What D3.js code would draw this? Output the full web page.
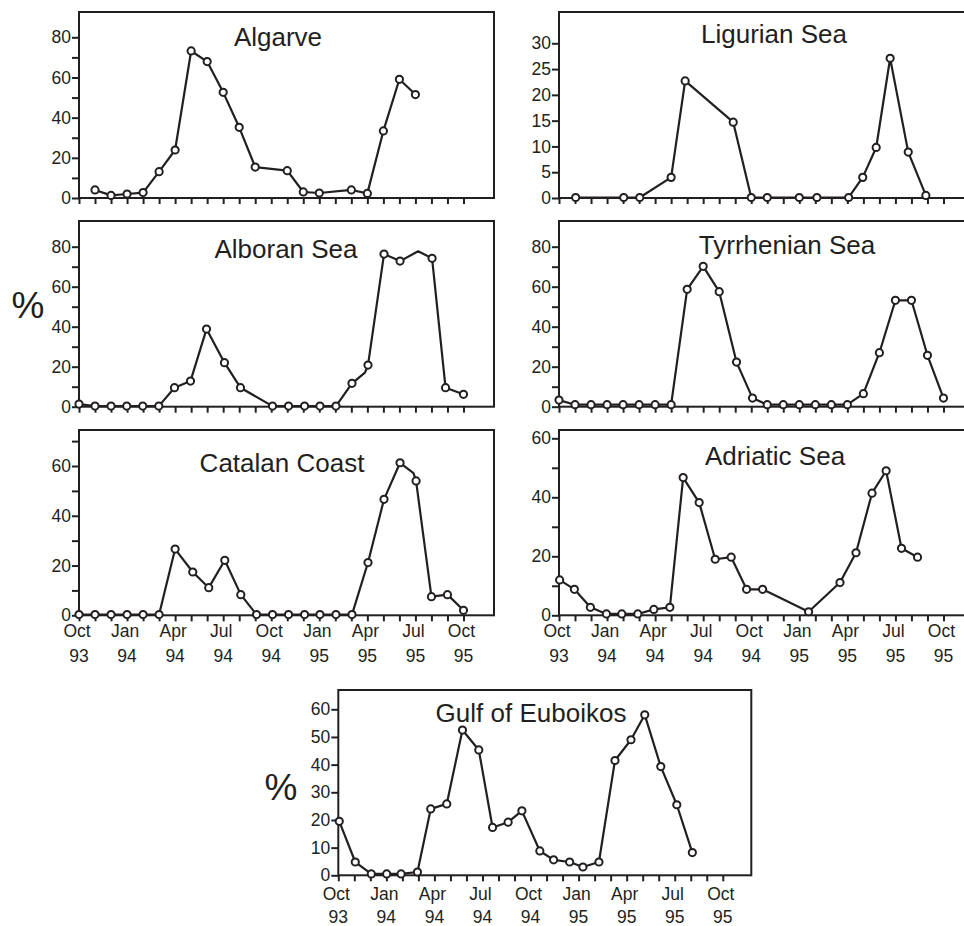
<!DOCTYPE html>
<html>
<head>
<meta charset="utf-8">
<script src="https://cdn.jsdelivr.net/npm/d3@7"></script>
<style>
  body { margin: 0; background: #fff; }
  svg text { font-family: "Liberation Sans", Arial, Helvetica, sans-serif; fill: #231f20; }
  .axis line { stroke: #231f20; stroke-width: 2; }
  .axis path { display: none; }
  .axis text { font-size: 17.5px; }
</style>
</head>
<body>
<div id="canvas"></div>
<script>
// x values are months counted from Oct 93 (0) to Oct 95 (24)
var monthLabels = ['Oct','Jan','Apr','Jul','Oct','Jan','Apr','Jul','Oct'],
    yearLabels  = ['93','94','94','94','94','95','95','95','95'],
    labelMonths = [0,3,6,9,12,15,18,21,24];

var algarveMonths = [1,2,3,4,5,6,7,8,9,10,11,13,14,15,17,18,19,20,21],
    algarveValues = [4.0,1.3,2.0,2.7,13.1,23.9,73.2,67.9,52.6,35.2,15.4,13.6,3.0,2.5,4.0,2.3,33.4,59.1,51.5];

var ligurianMonths = [1.04,4.04,5.04,7.0,7.875,10.875,12.0,13.0,15.0,16.1,18.08,18.96,19.8,20.67,21.8,22.9],
    ligurianValues = [0.1,0.1,0.1,4.0,22.7,14.7,0.1,0.1,0.1,0.1,0.1,4.0,9.8,27.1,8.9,0.5];

var alboranMonths = [0,1,2,2.98,3.98,4.98,5.96,6.96,7.96,9.08,10.08,12.08,13.08,14.08,15.04,16.04,17.04,17.85,18.04,19.04,20.04,21.17,22.04,22.88,24],
    alboranValues = [1.3,0.3,0.3,0.3,0.3,0.3,9.5,12.8,38.8,22.0,9.5,0.3,0.3,0.3,0.3,0.3,11.7,17.0,20.8,76.3,72.8,77.7,74.2,9.5,6.2],
    alboranNoMark = [17,21];

var tyrrhenianMonths = [0,1,2,3,4,5,6,7,8,9,10,11.08,12.08,13,14,15,16,17,18,19,20,21,22,23,24],
    tyrrhenianValues = [3.3,1,1,1,1,1,1,1,58.7,70.2,57.5,22.3,4.3,1,1,1,1,1,1,6.5,27,53.2,53.2,25.7,4.3];

var catalanMonths = [0,1,2,3,4,5,6,7.1,8.1,9.1,10.1,11.08,12.08,13.08,14.08,15.04,16.04,17.04,18.04,19.04,20.04,20.88,21.04,22,23,24],
    catalanValues = [0.3,0.3,0.3,0.3,0.3,0.3,26.6,17.4,11.1,22.1,8.3,0.3,0.3,0.3,0.3,0.3,0.3,0.3,21.2,46.6,61.3,57.1,54.0,7.5,8.3,2.0],
    catalanNoMark = [21];

var adriaticMonths = [0.04,0.96,1.96,2.96,3.92,4.92,5.92,6.92,7.75,8.75,9.75,10.75,11.71,12.71,15.58,17.54,18.54,19.54,20.42,21.38,22.38],
    adriaticValues = [12.0,8.8,2.7,0.45,0.45,0.45,2.0,2.7,46.7,38.2,19.0,19.7,8.8,8.8,1.2,11.1,21.2,41.4,49.0,22.7,19.7];

var euboikosMonths = [0.06,1.06,2.06,3.02,3.92,4.94,5.77,6.77,7.75,8.77,9.63,10.6,11.46,12.58,13.44,14.44,15.27,16.27,17.27,18.27,19.13,20.13,21.13,22.1],
    euboikosValues = [19.5,4.8,0.5,0.5,0.5,1.2,24,25.8,52.5,45.3,17.3,19.2,23.3,8.8,5.6,4.8,3.0,4.8,41.5,49,58,39.3,25.5,8.2];

//layout of the seven panels
var panels = [
  {name:'Algarve', months:algarveMonths, values:algarveValues, noMark:[],
   x:79, top:12, w:415, zero:198, ref:80, refY:37.3, ticks:[0,20,40,60,80], minor:[10,30,50,70], tx:278, ty:46},
  {name:'Ligurian Sea', months:ligurianMonths, values:ligurianValues, noMark:[],
   x:559, top:12, w:415, zero:198, ref:30, refY:43.3, ticks:[0,5,10,15,20,25,30], minor:[], tx:774, ty:43},
  {name:'Alboran Sea', months:alboranMonths, values:alboranValues, noMark:alboranNoMark,
   x:79, top:221, w:415, zero:406.7, ref:80, refY:246.7, ticks:[0,20,40,60,80], minor:[10,30,50,70], tx:286, ty:258},
  {name:'Tyrrhenian Sea', months:tyrrhenianMonths, values:tyrrhenianValues, noMark:[],
   x:559, top:221, w:415, zero:406.7, ref:80, refY:246.7, ticks:[0,20,40,60,80], minor:[10,30,50,70], tx:787, ty:254},
  {name:'Catalan Coast', months:catalanMonths, values:catalanValues, noMark:catalanNoMark,
   x:79, top:430, w:415, zero:615.3, ref:60, refY:466, ticks:[0,20,40,60], minor:[10,30,50,70], tx:282, ty:472, labels:[22,47]},
  {name:'Adriatic Sea', months:adriaticMonths, values:adriaticValues, noMark:[],
   x:559, top:430, w:415, zero:615.3, ref:60, refY:438.3, ticks:[0,20,40,60], minor:[10,30,50], tx:775, ty:465, labels:[22,47]},
  {name:'Gulf of Euboikos', months:euboikosMonths, values:euboikosValues, noMark:[],
   x:338.3, top:690, w:413, zero:875.3, ref:60, refY:709.3, ticks:[0,10,20,30,40,50,60], minor:[], tx:531, ty:722, labels:[24.5,48]}
];

var monthPx = 16.02;

var svg = d3.select('#canvas')
    .append('svg')
    .attr('width', 964)
    .attr('height', 926);

panels.forEach(function(p){
    var h = p.zero - p.top;
    var yMax = p.ref * h / (p.zero - p.refY);

    var scaleX = d3.scaleLinear().domain([0, p.w / monthPx]).range([0, p.w]);
    var scaleY = d3.scaleLinear().domain([0, yMax]).range([h, 0]);

    var plot = svg.append('g')
        .attr('transform', 'translate(' + p.x + ',' + p.top + ')');

    //x ticks, one per month
    plot.append('g').attr('class', 'axis')
        .attr('transform', 'translate(0,' + h + ')')
        .call(d3.axisBottom(scaleX).tickValues(d3.range(0, 25)).tickSize(6).tickFormat(''));

    //y ticks with labels, then unlabelled ones
    plot.append('g').attr('class', 'axis')
        .call(d3.axisLeft(scaleY).tickValues(p.ticks).tickSize(7).tickPadding(1).tickFormat(d3.format('d')));
    if (p.minor.length) {
        plot.append('g').attr('class', 'axis')
            .call(d3.axisLeft(scaleY).tickValues(p.minor).tickSize(7).tickFormat(''));
    }

    //frame
    plot.append('rect')
        .attr('x', 0).attr('y', 0)
        .attr('width', p.w).attr('height', h)
        .attr('fill', 'none')
        .attr('stroke', '#231f20')
        .attr('stroke-width', 2);

    var pts = p.months.map(function(m, i){ return {m: m, v: p.values[i], i: i}; });

    var line = d3.line()
        .x(function(d){ return scaleX(d.m); })
        .y(function(d){ return scaleY(d.v); });

    plot.append('path')
        .datum(pts)
        .attr('d', line)
        .attr('fill', 'none')
        .attr('stroke', '#231f20')
        .attr('stroke-width', 2.2)
        .attr('stroke-linejoin', 'round');

    plot.selectAll('circle')
        .data(pts.filter(function(d){ return p.noMark.indexOf(d.i) < 0; }))
        .enter().append('circle')
        .attr('cx', function(d){ return scaleX(d.m); })
        .attr('cy', function(d){ return scaleY(d.v); })
        .attr('r', 3.6)
        .attr('fill', '#fff')
        .attr('stroke', '#231f20')
        .attr('stroke-width', 2);

    //month / year labels under the bottom row
    if (p.labels) {
        var lab = plot.append('g').attr('class', 'axis');
        labelMonths.forEach(function(m, i){
            lab.append('text')
                .attr('x', scaleX(m) - 2)
                .attr('y', h + p.labels[0])
                .attr('text-anchor', 'middle')
                .text(monthLabels[i]);
            lab.append('text')
                .attr('x', scaleX(m))
                .attr('y', h + p.labels[1])
                .attr('text-anchor', 'middle')
                .text(yearLabels[i]);
        });
    }

    svg.append('text')
        .attr('x', p.tx)
        .attr('y', p.ty)
        .attr('text-anchor', 'middle')
        .style('font-size', '26px')
        .text(p.name);
});

//the two % axis titles
svg.append('text')
    .attr('x', 28).attr('y', 318)
    .attr('text-anchor', 'middle')
    .style('font-size', '37px')
    .text('%');
svg.append('text')
    .attr('x', 281).attr('y', 800)
    .attr('text-anchor', 'middle')
    .style('font-size', '37px')
    .text('%');
</script>
</body>
</html>
